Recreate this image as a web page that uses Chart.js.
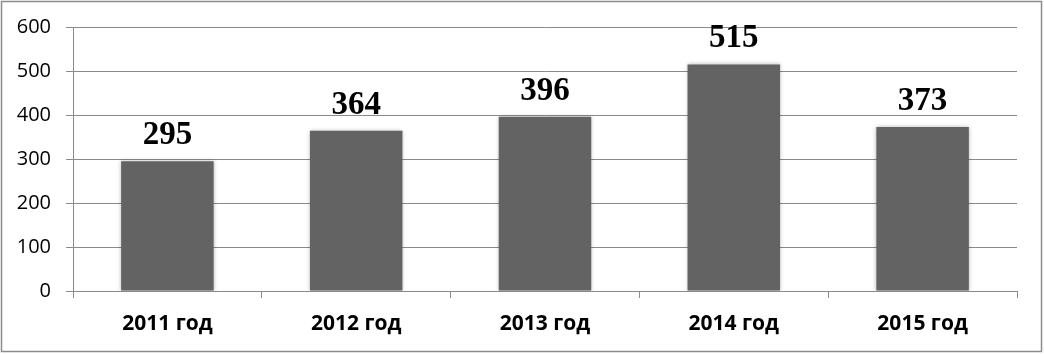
<!DOCTYPE html>
<html>
<head>
<meta charset="utf-8">
<script src="https://cdn.jsdelivr.net/npm/chart.js@4.4.1/dist/chart.umd.min.js"></script>
<style>
  html, body { margin: 0; padding: 0; background: #fff; }
  #wrap { width: 1044px; height: 354px; position: relative; }
</style>
</head>
<body>
<div id="wrap"><canvas id="chart"></canvas></div>
<script>
// chart data
const years = ['2011 год', '2012 год', '2013 год', '2014 год', '2015 год'];
const counts = [295, 364, 396, 515, 373];
const yTicks = [0, 100, 200, 300, 400, 500, 600];

const gridGray = '#8a8a8a';

// outer frame around the whole picture
const framePlugin = {
    id: 'frame',
    afterDraw(chart) {
        const ctx = chart.ctx;
        ctx.save();
        ctx.strokeStyle = '#8c8c8c';
        ctx.lineWidth = 1.5;
        ctx.strokeRect(1.5, 1.5, chart.width - 4, chart.height - 4);
        ctx.restore();
    }
};

// soft shadow round the bars
const shadowPlugin = {
    id: 'barShadow',
    beforeDatasetsDraw(chart) {
        const ctx = chart.ctx;
        ctx.save();
        ctx.shadowColor = 'rgba(0, 0, 0, 0.28)';
        ctx.shadowBlur = 4;
        ctx.shadowOffsetX = 0;
        ctx.shadowOffsetY = 0;
    },
    afterDatasetsDraw(chart) {
        chart.ctx.restore();
    }
};

// value labels above each bar
const valueLabels = {
    id: 'valueLabels',
    afterDatasetsDraw(chart) {
        const ctx = chart.ctx;
        const meta = chart.getDatasetMeta(0);
        ctx.save();
        ctx.font = 'bold 33px "Liberation Serif", "Times New Roman", serif';
        ctx.fillStyle = '#000';
        ctx.textAlign = 'center';
        ctx.textBaseline = 'alphabetic';
        meta.data.forEach((bar, i) => {
            ctx.fillText(String(counts[i]), bar.x, bar.y - 17);
        });
        ctx.restore();
    }
};

new Chart(document.getElementById('chart'), {
    type: 'bar',
    data: {
        labels: years,
        datasets: [{
            data: counts,
            backgroundColor: '#636363',
            borderWidth: 0,
            categoryPercentage: 1,
            barPercentage: 0.49
        }]
    },
    options: {
        responsive: true,
        maintainAspectRatio: false,
        animation: false,
        layout: { padding: { top: 26, right: 27, bottom: 0, left: 0 } },
        plugins: {
            legend: { display: false },
            tooltip: { enabled: false }
        },
        scales: {
            x: {
                grid: {
                    drawOnChartArea: false,
                    drawTicks: true,
                    tickLength: 7,
                    color: gridGray
                },
                border: { display: true, color: gridGray, width: 1 },
                ticks: {
                    color: '#000',
                    padding: 13,
                    font: { family: '"Open Sans", "Noto Sans", sans-serif', size: 21, weight: 'bold' }
                },
                afterFit(scale) { scale.height = 354 - 291; }
            },
            y: {
                min: 0,
                max: 600,
                afterBuildTicks(scale) {
                    scale.ticks = yTicks.map(v => ({ value: v }));
                },
                grid: {
                    drawTicks: true,
                    tickLength: 7,
                    color: gridGray
                },
                border: { display: true, color: gridGray, width: 1 },
                ticks: {
                    color: '#000',
                    padding: 15,
                    font: { family: '"Open Sans", "Noto Sans", sans-serif', size: 20, weight: 500 }
                },
                afterFit(scale) { scale.width = 73; }
            }
        }
    },
    plugins: [framePlugin, shadowPlugin, valueLabels]
});
</script>
</body>
</html>
